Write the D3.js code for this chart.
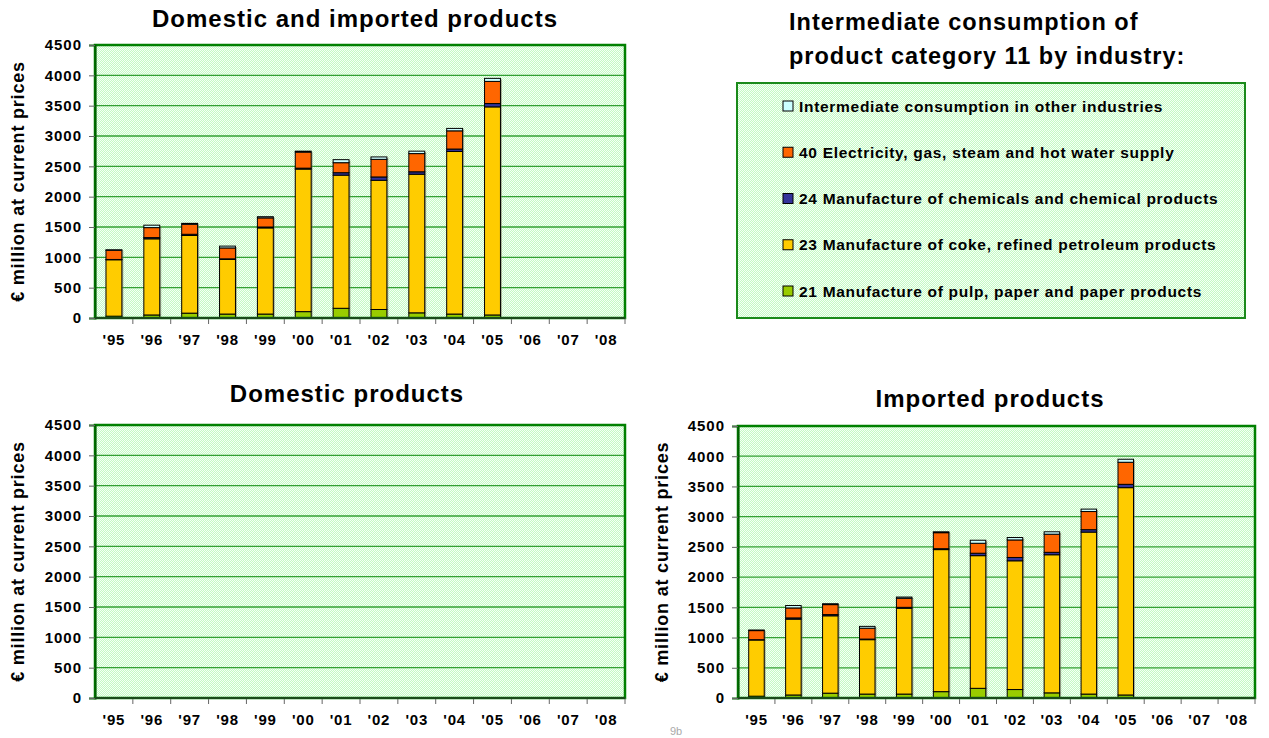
<!DOCTYPE html>
<html><head><meta charset="utf-8">
<script src="https://cdn.jsdelivr.net/npm/d3@7"></script>
<style>
html,body{margin:0;padding:0;background:#fff;}
svg{display:block;font-family:"Liberation Sans",Arial,sans-serif;}
</style></head>
<body><svg id="c" width="1269" height="738"></svg>
<script>
const years = ["'95","'96","'97","'98","'99","'00","'01","'02","'03","'04","'05","'06","'07","'08"];
const yTicks = [0,500,1000,1500,2000,2500,3000,3500,4000,4500];
const seriesNames = [
  "21 Manufacture of pulp, paper and paper products",
  "23 Manufacture of coke, refined petroleum products",
  "24 Manufacture of chemicals and chemical products",
  "40 Electricity, gas, steam and hot water supply",
  "Intermediate consumption in other industries"
];
const seriesColors = ["#99CC00","#FFCC00","#333399","#FF6600","#CCFFFF"];
// imported products (values in € million), 2006-2008 empty
const impPulp   = [30, 50, 80, 65, 65, 105, 160, 140, 85, 65, 50, 0, 0, 0];
const impCoke   = [930,1255,1280,900,1420,2350,2195,2130,2285,2680,3430,0,0,0];
const impChem   = [5, 20, 20, 10, 15, 15, 40, 55, 40, 40, 55, 0, 0, 0];
const impElec   = [150,165,165,180,150,265,165,290,300,300,365,0,0,0];
const impOther  = [10, 40, 15, 30, 20, 15, 50, 40, 40, 40, 50, 0, 0, 0];
// domestic products: all zero
const domPulp  = [0,0,0,0,0,0,0,0,0,0,0,0,0,0];
const domCoke  = [0,0,0,0,0,0,0,0,0,0,0,0,0,0];
const domChem  = [0,0,0,0,0,0,0,0,0,0,0,0,0,0];
const domElec  = [0,0,0,0,0,0,0,0,0,0,0,0,0,0];
const domOther = [0,0,0,0,0,0,0,0,0,0,0,0,0,0];

const totPulp  = impPulp.map((v,i)=>v+domPulp[i]);
const totCoke  = impCoke.map((v,i)=>v+domCoke[i]);
const totChem  = impChem.map((v,i)=>v+domChem[i]);
const totElec  = impElec.map((v,i)=>v+domElec[i]);
const totOther = impOther.map((v,i)=>v+domOther[i]);

function table(arrs){
  return years.map((y,i)=>{const o={year:y}; arrs.forEach((a,k)=>o["s"+k]=a[i]); return o;});
}

const svg = d3.select("#c");
const defs = svg.append("defs");
const pat = defs.append("pattern").attr("id","bgpat").attr("width",2).attr("height",2).attr("patternUnits","userSpaceOnUse");
pat.append("rect").attr("width",2).attr("height",2).attr("fill","#C4FAC4");
pat.append("rect").attr("x",0).attr("y",0).attr("width",1).attr("height",1).attr("fill","#F6FFF6");
pat.append("rect").attr("x",1).attr("y",1).attr("width",1).attr("height",1).attr("fill","#F6FFF6");

const FONT = "Liberation Sans, Arial, sans-serif";

function drawChart(o){
  const g = svg.append("g");
  const x = d3.scaleBand().domain(years).range([o.x0,o.x1]).paddingInner(0.58).paddingOuter(0.29);
  const xb = d3.scaleBand().domain(years).range([o.x0,o.x1]);
  const y = d3.scaleLinear().domain([0,4500]).range([o.y1,o.y0]);
  g.append("rect").attr("x",o.x0).attr("y",o.y0).attr("width",o.x1-o.x0).attr("height",o.y1-o.y0).attr("fill","url(#bgpat)");
  // gridlines
  g.selectAll(".grid").data(yTicks.filter(t=>t>0&&t<4500)).join("line")
    .attr("x1",o.x0).attr("x2",o.x1).attr("y1",d=>y(d)).attr("y2",d=>y(d))
    .attr("stroke","#33a033").attr("stroke-width",1.3);
  // bars
  const stack = d3.stack().keys(["s0","s1","s2","s3","s4"]);
  const st = stack(table(o.data));
  const bw = x.bandwidth();
  // shadow
  g.selectAll(".shadow").data(st[0].map((d,i)=>({year:years[i], top:st[4][i][1]})).filter(d=>d.top>0)).join("rect")
    .attr("x",d=>x(d.year)+1.5).attr("y",d=>y(d.top)+1).attr("width",bw).attr("height",d=>y(0)-y(d.top)-1)
    .attr("fill","#7a7a60").attr("opacity",0.55);
  st.forEach((layer,k)=>{
    g.selectAll(".l"+k).data(layer.filter(d=>d[1]-d[0]>0)).join("rect")
      .attr("x",d=>x(d.data.year)).attr("y",d=>y(d[1])).attr("width",bw).attr("height",d=>y(d[0])-y(d[1]))
      .attr("fill",seriesColors[k]).attr("stroke","#000").attr("stroke-width",1);
  });
  // border
  g.append("rect").attr("x",o.x0).attr("y",o.y0).attr("width",o.x1-o.x0).attr("height",o.y1-o.y0)
    .attr("fill","none").attr("stroke","#008000").attr("stroke-width",2.5);
  // y axis
  const ya = g.append("g").attr("transform",`translate(${o.x0},0)`)
    .call(d3.axisLeft(y).tickValues(yTicks).tickSize(6).tickPadding(7).tickFormat(d3.format("d")));
  ya.select(".domain").attr("stroke","#006000").attr("stroke-width",2);
  ya.selectAll(".tick line").attr("stroke","#666");
  ya.selectAll("text").attr("font-size",15).attr("font-weight","bold").attr("fill","#000")
    .attr("font-family",FONT).attr("letter-spacing",1);
  // x axis
  const xa = g.append("g").attr("transform",`translate(0,${o.y1})`)
    .call(d3.axisBottom(x).tickSize(0).tickPadding(16));
  xa.select(".domain").remove();
  xa.selectAll("text").attr("font-size",15).attr("font-weight","bold").attr("fill","#000")
    .attr("font-family",FONT).attr("letter-spacing",0.8);
  // x tick marks at band boundaries
  g.selectAll(".xt").data(years.slice(1).concat(["end"])).join("line")
    .attr("x1",d=>d==="end"?o.x1:xb(d)).attr("x2",d=>d==="end"?o.x1:xb(d))
    .attr("y1",o.y1).attr("y2",o.y1+6).attr("stroke","#666");
  g.append("line").attr("x1",o.x0).attr("x2",o.x1).attr("y1",o.y1).attr("y2",o.y1).attr("stroke","#1a4a1a").attr("stroke-width",2);
  // axis title
  g.append("text").attr("transform",`translate(${o.ytx},${(o.y0+o.y1)/2}) rotate(-90)`)
    .attr("text-anchor","middle").attr("font-size",18).attr("font-weight","bold").attr("letter-spacing",0.8)
    .text("€ million at current prices");
  // chart title
  g.append("text").attr("x",o.tx).attr("y",o.ty).attr("text-anchor","middle")
    .attr("font-size",24).attr("font-weight","bold").attr("letter-spacing",1).text(o.title);
}

drawChart({x0:95,x1:625,y0:45,y1:318,ytx:24,tx:355,ty:27,title:"Domestic and imported products",
  data:[totPulp,totCoke,totChem,totElec,totOther]});
drawChart({x0:95,x1:625,y0:425,y1:698,ytx:24,tx:347,ty:402,title:"Domestic products",
  data:[domPulp,domCoke,domChem,domElec,domOther]});
drawChart({x0:738,x1:1255,y0:426,y1:698,ytx:668,tx:990,ty:407,title:"Imported products",
  data:[impPulp,impCoke,impChem,impElec,impOther]});

// top-right title
const tt = svg.append("text").attr("x",789).attr("font-size",23.5).attr("font-weight","bold").attr("letter-spacing",1);
tt.append("tspan").attr("x",789).attr("y",30).text("Intermediate consumption of");
tt.append("tspan").attr("x",789).attr("y",64).text("product category 11 by industry:");

// legend
const lg = svg.append("g");
lg.append("rect").attr("x",737).attr("y",83).attr("width",508).attr("height",235)
  .attr("fill","url(#bgpat)").attr("stroke","#1a8a1a").attr("stroke-width",2);
const legOrder = [4,3,2,1,0];
const ly = d3.scalePoint().domain(legOrder).range([106,291]);
legOrder.forEach(k=>{
  lg.append("rect").attr("x",783).attr("y",ly(k)-5).attr("width",10).attr("height",10)
    .attr("fill",seriesColors[k]).attr("stroke","#000").attr("stroke-width",1);
  lg.append("text").attr("x",799).attr("y",ly(k)+5.5).attr("font-size",15.5).attr("font-weight","bold")
    .attr("letter-spacing",0.7).text(seriesNames[k]);
});

svg.append("text").attr("x",676).attr("y",735).attr("text-anchor","middle").attr("font-size",11).attr("fill","#aaa").text("9b");
</script></body></html>
